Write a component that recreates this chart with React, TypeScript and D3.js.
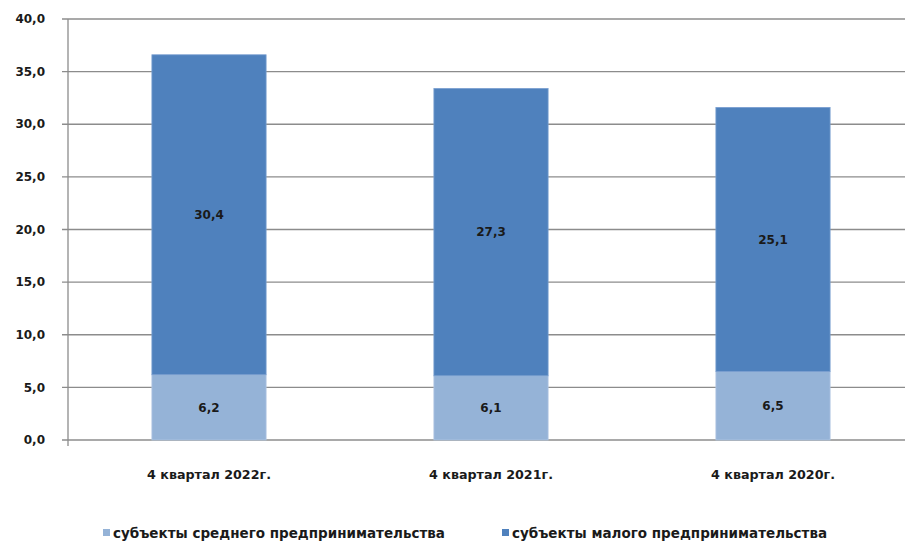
import React from "react";
import * as d3 from "d3";

const categories = ["4 квартал 2022г.", "4 квартал 2021г.", "4 квартал 2020г."];
const seriesNames = ["субъекты среднего предпринимательства", "субъекты малого предпринимательства"];
const medium = [6.2, 6.1, 6.5];
const small = [30.4, 27.3, 25.1];
const yTicks = [0, 5, 10, 15, 20, 25, 30, 35, 40];
const colors = ["#95B3D7", "#4F81BD"];

const W = 905, H = 545;
const left = 68, right = 914, top = 19, bottom = 440;
const font = "'DejaVu Sans', Tahoma, sans-serif";
const fmt = (v: number) => v.toFixed(1).replace(".", ",");

export default function App() {
  const x = d3.scaleBand<string>().domain(categories).range([left, right]).paddingInner(0.595).paddingOuter(0.2975);
  const y = d3.scaleLinear().domain([0, 40]).range([bottom, top]);
  const data = categories.map((c, i) => ({ c, m: medium[i], s: small[i] }));
  const stack = d3.stack<any>().keys(["m", "s"])(data);
  const txt = { fontSize: 12, fontWeight: 700, fill: "#1a1a1a" } as const;
  return (
    <svg width={W} height={H} style={{ position: "absolute", left: 0, top: 0, background: "#fff" }} fontFamily={font}>
      {yTicks.map((t) => (
        <g key={t}>
          <line x1={left - 6} x2={W} y1={y(t)} y2={y(t)} stroke="#8c8c8c" strokeWidth={1.3} />
          <text x={45} y={y(t)} dy="0.35em" textAnchor="end" {...txt}>{fmt(t)}</text>
        </g>
      ))}
      <line x1={left} x2={left} y1={top} y2={bottom + 6} stroke="#8c8c8c" strokeWidth={1.3} />
      {stack.map((layer, li) => (
        <g key={li}>
          {layer.map((d, i) => (
            <rect key={i} x={x(categories[i])!} width={x.bandwidth()} y={y(d[1])} height={y(d[0]) - y(d[1])}
              fill={colors[li]} stroke={li === 0 ? "#b0c6e2" : "#7a9fd0"} strokeWidth={0.8} />
          ))}
          {layer.map((d, i) => (
            <text key={"t" + i} x={x(categories[i])! + x.bandwidth() / 2} y={(y(d[0]) + y(d[1])) / 2} dy="0.35em"
              textAnchor="middle" {...txt}>{fmt(d[1] - d[0])}</text>
          ))}
        </g>
      ))}
      {categories.map((c) => (
        <text key={c} x={x(c)! + x.bandwidth() / 2} y={479} textAnchor="middle" {...txt} fontSize={12.7}>{c}</text>
      ))}
      {seriesNames.map((n, i) => (
        <g key={n} transform={`translate(${i === 0 ? 103 : 502},${529})`}>
          <rect x={0} y={0} width={7} height={7} fill={colors[i]} />
          <text x={10} y={4} dy="0.35em" {...txt} fontSize={13.5}>{n}</text>
        </g>
      ))}
    </svg>
  );
}
